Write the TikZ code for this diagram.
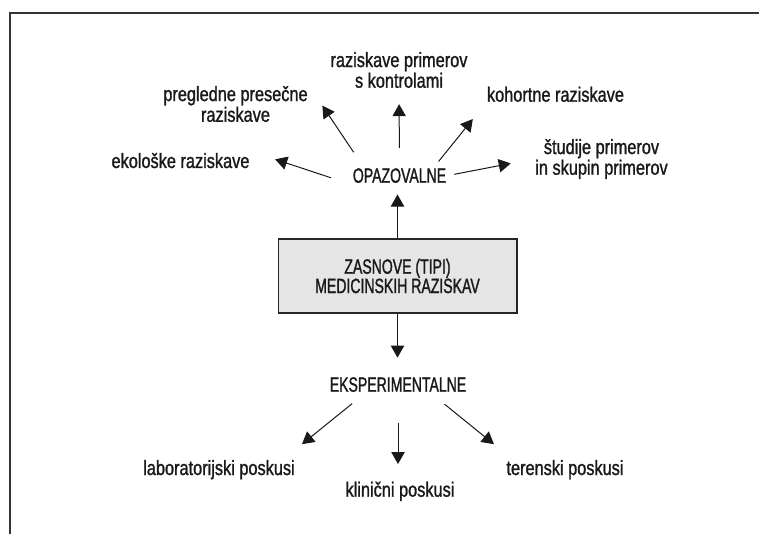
\documentclass[tikz,border=0pt]{standalone}
\usepackage{fontspec}
\setmainfont{Liberation Sans}[FakeStretch=0.79, FakeBold=1.2]
\newfontfamily\capsfont{Liberation Sans}[FakeStretch=0.68, FakeBold=1.2]
\usetikzlibrary{arrows.meta, positioning}

\tikzset{
  txt/.style={inner sep=1pt, align=center, text=black!90,
    font=\fontsize{15.5pt}{15.5pt}\selectfont},
  caps/.style={txt, font=\capsfont\fontsize{15.5pt}{14.5pt}\selectfont},
  box/.style={caps, draw=black!85, line width=1pt, fill=black!10,
    minimum width=179pt, minimum height=55.5pt},
  arr/.style={-{Triangle[length=9pt,width=10pt]}, line width=0.75pt, black!90},
}

\begin{document}
\begin{tikzpicture}[x=0.75pt, y=-0.75pt]
\useasboundingbox (0,0) rectangle (759,534);
% Frame
\draw[line width=1pt, black!80] (759,13) -- (10,13) -- (10,534);

% Main box
\node[box] (zasnove) at (397.5,276) {ZASNOVE (TIPI)\\MEDICINSKIH RAZISKAV};

% Observational studies
\node[caps, anchor=base] (opaz) at (399.5,182.7) {OPAZOVALNE};
\node[txt] (kontr) at (399,70) {raziskave primerov\\s kontrolami};
\node[txt] (presec) at (235.5,104) {pregledne presečne\\raziskave};
\node[txt, anchor=base] (ekol) at (180.5,168) {ekološke raziskave};
\node[txt, anchor=base] (kohort) at (555.5,101.7) {kohortne raziskave};
\node[txt] (studije) at (601.5,159) {študije primerov\\in skupin primerov};

% Experimental studies
\node[caps, anchor=base] (eksp) at (398,391.7) {EKSPERIMENTALNE};
\node[txt, anchor=base] (lab) at (219,475) {laboratorijski poskusi};
\node[txt, anchor=base] (klin) at (400,496.7) {klinični poskusi};
\node[txt, anchor=base] (teren) at (565,475) {terenski poskusi};

% Arrows
\draw[arr, shorten >=7.5pt] (zasnove.north) -- (zasnove.north |- opaz.south);
\draw[arr, shorten <=14pt, shorten >=11pt] (opaz.north) -- (kontr.south);
\draw[arr, shorten <=13pt, shorten >=1.5pt] ([xshift=9pt]opaz.north west) -- ([xshift=9pt]presec.east);
\draw[arr, shorten <=16pt, shorten >=19pt] (opaz.south west) -- (ekol.north east);
\draw[arr, shorten <=5pt, shorten >=15pt] ([xshift=-10pt]opaz.north east) -- (kohort.south west);
\draw[arr, shorten <=5pt, shorten >=17.5pt] (opaz.east) -- (studije.west);

\draw[arr, shorten >=13.5pt] (zasnove.south) -- (zasnove.south |- eksp.north);
\draw[arr, shorten <=12pt, shorten >=17pt] ([xshift=-25pt]eksp.south) -- ([xshift=-9pt]lab.north east);
\draw[arr, shorten <=22pt, shorten >=12pt] (eksp.south) -- (eksp.south |- klin.north);
\draw[arr, shorten <=12.7pt, shorten >=17pt] ([xshift=25pt]eksp.south) -- ([xshift=5pt]teren.north west);
\end{tikzpicture}
\end{document}
